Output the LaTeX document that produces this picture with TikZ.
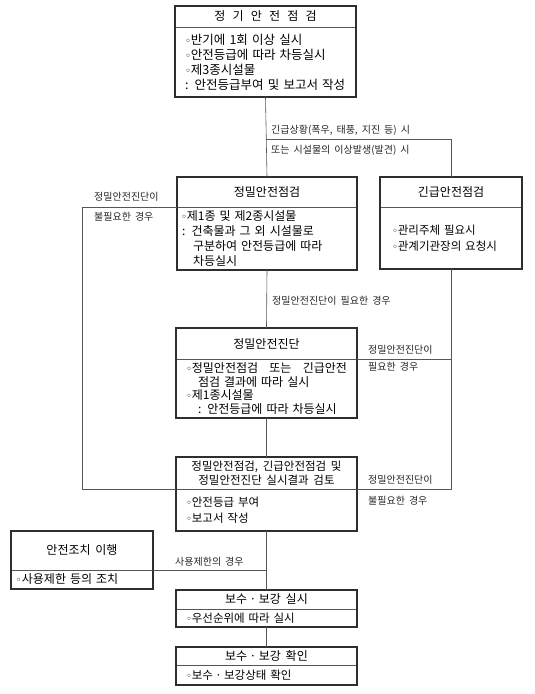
\documentclass[tikz,border=0pt]{standalone}
\usepackage{fontspec}
\setmainfont[WordSpace=1.8]{Noto Sans CJK KR}
\newfontfamily\symf{DejaVu Sans}
\usetikzlibrary{positioning}
\definecolor{frm}{HTML}{2E2E2E}
\definecolor{lin}{HTML}{555555}
\newcommand{\bul}{{\symf\fontsize{10}{10}\selectfont ◦}}
\newcommand{\ind}{\hspace*{1em}}
\newcommand{\md}{\hspace{.2em}·\hspace{.2em}}

\begin{document}
\begin{tikzpicture}[x=1pt,y=-1pt,
    hd/.style={draw=lin, line width=.5pt, outer sep=0pt, inner sep=1pt,
      align=center, font=\fontsize{12}{14}\selectfont},
    bd/.style={draw=lin, line width=.5pt, outer sep=0pt, inner ysep=1pt,
      inner xsep=10pt, text width=161pt, align=left,
      font=\fontsize{12}{15}\selectfont},
    frame/.style={draw=frm, line width=1.7pt},
    line/.style={draw=lin, line width=.6pt},
    lab/.style={anchor=west, inner sep=0pt, text=black!85,
      font=\fontsize{10}{11}\selectfont}]

  \useasboundingbox (0,0) rectangle (535,694);

  % jeonggi
  \node[hd, minimum width=181pt, minimum height=21pt, anchor=north] (jg-h) at (265.5,6)
    {정\hspace{.6em}기\hspace{.6em}안\hspace{.6em}전\hspace{.6em}점\hspace{.6em}검};
  \node[bd, minimum height=70pt, below=0pt of jg-h, font=\fontsize{12.5}{15}\selectfont] (jg-b)
    {\bul 반기에 1회 이상 실시\\ \bul 안전등급에 따라 차등실시\\ \bul 제3종시설물\\ : 안전등급부여 및 보고서 작성};

  % jeongmil jeomgeom
  \node[hd, minimum width=180pt, minimum height=30pt, anchor=north] (jm-h) at (267,177) {정밀안전점검};
  \node[bd, inner xsep=4pt, text width=172pt, minimum height=63pt, below=0pt of jm-h] (jm-b)
    {\bul 제1종 및 제2종시설물\\ \hspace*{.1em}: 건축물과 그 외 시설물로\\ \ind 구분하여 안전등급에 따라\\ \ind 차등실시};

  % gingeup
  \node[hd, minimum width=142pt, minimum height=30pt, anchor=north] (gg-h) at (451,177) {긴급안전점검};
  \node[bd, inner xsep=12pt, text width=118pt, minimum height=62pt, below=0pt of gg-h,
    font=\fontsize{11.5}{16}\selectfont] (gg-b)
    {\bul 관리주체 필요시\\ \bul 관계기관장의 요청시};

  % jindan
  \node[hd, minimum width=181pt, minimum height=31pt, anchor=north] (jd-h) at (266.5,328) {정밀안전진단};
  \node[bd, minimum height=59pt, below=0pt of jd-h, font=\fontsize{12}{13.5}\selectfont] (jd-b)
    {\hbox to 161pt{\bul 정밀안전점검\hfil 또는\hfil 긴급안전}\\ \ind 점검 결과에 따라 실시\\ \bul 제1종시설물\\ \ind : 안전등급에 따라 차등실시};

  % geomto
  \node[hd, minimum width=181pt, minimum height=32pt, anchor=north, font=\fontsize{11.5}{14}\selectfont] (gt-h) at (266.5,457)
    {정밀안전점검, 긴급안전점검 및\\ 정밀안전진단 실시결과 검토};
  \node[bd, minimum height=42pt, below=0pt of gt-h, font=\fontsize{11.5}{16}\selectfont] (gt-b)
    {\bul 안전등급 부여\\ \bul 보고서 작성};

  % anjeonjochi
  \node[hd, minimum width=142pt, minimum height=39pt, anchor=north] (aj-h) at (82,531) {안전조치 이행};
  \node[bd, inner xsep=5pt, text width=132pt, minimum height=19pt, below=0pt of aj-h] (aj-b)
    {\bul 사용제한 등의 조치};

  % bosu
  \node[hd, minimum width=181pt, minimum height=19pt, anchor=north] (bs-h) at (266.5,590) {보수\md 보강 실시};
  \node[bd, minimum height=18pt, below=0pt of bs-h, font=\fontsize{11.5}{14}\selectfont] (bs-b) {\bul 우선순위에 따라 실시};

  \node[hd, minimum width=181pt, minimum height=18pt, anchor=north] (bh-h) at (266.5,647) {보수\md 보강 확인};
  \node[bd, minimum height=20pt, below=0pt of bh-h, font=\fontsize{11.5}{14}\selectfont] (bh-b) {\bul 보수\md 보강상태 확인};

  % frames
  \foreach \n in {jg,jm,gg,jd,gt,aj,bs,bh}
    \draw[frame] (\n-h.north west) rectangle (\n-b.south east);

  % connectors
  \draw[line] (jg-b.south) -- (jm-h.north);
  \path (jg-b.south) ++(0,42) coordinate (br);
  \draw[line] (br) -| (gg-h.north);
  \foreach \a/\b in {jm-b/jd-h, jd-b/gt-h, gt-b/bs-h, bs-b/bh-h}
    \draw[line] (\a.south) -- (\b.north);
  \draw[line] (jm-b.north west) -- ++(-95,0) coordinate (lt) |- (gt-b.north west);
  \draw[line] (gg-b.south) |- (gt-b.north east);
  \draw[line] (jd-b.north east) -- (jd-b.north east -| gg-b.south);
  \draw[line] (aj-b.north east) -- (aj-b.north east -| gt-b.south);

  % labels
  \node[lab] (l1) at (271,130) {긴급상황(폭우, 태풍, 지진 등) 시};
  \node[lab] (l2) at (271,150) {또는 시설물의 이상발생(발견) 시};
  \node[lab] (l3) at (94,197) {정밀안전진단이};
  \node[lab] (l4) at (94,217) {불필요한 경우};
  \node[lab] (l5) at (272,301) {정밀안전진단이 필요한 경우};
  \node[lab] (l6) at (368,350) {정밀안전진단이};
  \node[lab] (l7) at (368,367) {필요한 경우};
  \node[lab] (l8) at (368,480) {정밀안전진단이};
  \node[lab] (l9) at (368,501) {불필요한 경우};
  \node[lab] (l10) at (175,562) {사용제한의 경우};
\end{tikzpicture}
\end{document}
